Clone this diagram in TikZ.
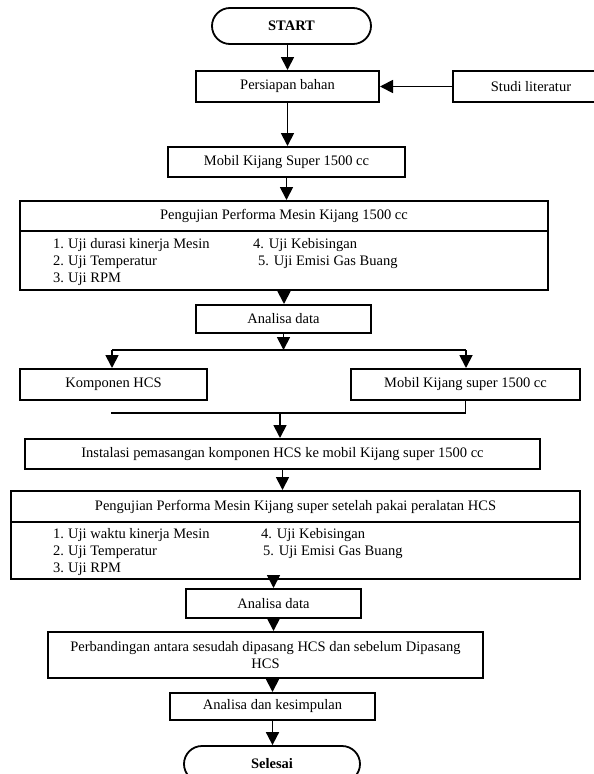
\documentclass[tikz,border=0pt]{standalone}
\usepackage{fontspec}
\setmainfont{Liberation Serif}
\usetikzlibrary{arrows.meta}
\begin{document}
\begin{tikzpicture}[x=1pt,y=-1pt,
  txt/.style={font=\fontsize{14.5}{17}\selectfont},
  box/.style={draw, line width=2pt, rectangle, inner sep=0pt, txt},
  term/.style={box, line width=1.8pt, rounded corners=18pt, font=\bfseries\fontsize{14.5}{17}\selectfont},
  arr/.style={line width=1.8pt, -{Triangle[width=13pt,length=13pt]}},
  ln/.style={line width=1.5pt},
  item/.style={anchor=base west, inner sep=0pt, txt}]
\useasboundingbox (0,0) rectangle (594,774);

\node[term, minimum width=159pt, minimum height=36pt] (start) at (291.5,26) {START};
\node[box, minimum width=183pt, minimum height=31pt] (persiapan) at (287.5,86.5) {Persiapan bahan};
\node[box, minimum width=156pt, minimum height=31pt] (studi) at (531,86.5) {Studi literatur};
\node[box, minimum width=237pt, minimum height=30pt] (mobil) at (286.5,162) {Mobil Kijang Super 1500 cc};
\node[box, minimum width=528pt, minimum height=30pt] (p1h) at (284,216) {Pengujian Performa Mesin Kijang 1500 cc};
\node[box, minimum width=528pt, minimum height=59pt] (p1b) at (284,260.5) {};
\node[item] (p1n1) at (53,248) {1.};
\node[item] (p1i1) at (68,248) {Uji durasi kinerja Mesin};
\node[item] (p1n2) at (53,265) {2.};
\node[item] (p1i2) at (68,265) {Uji Temperatur};
\node[item] (p1n3) at (53,282) {3.};
\node[item] (p1i3) at (68,282) {Uji RPM};
\node[item] (p1i4) at (253,248) {4. Uji Kebisingan};
\node[item] (p1i5) at (258,265) {5. Uji Emisi Gas Buang};

\node[box, minimum width=175pt, minimum height=28pt] (an1) at (283.5,319) {Analisa data};
\node[box, minimum width=187pt, minimum height=31pt] (komp) at (113.5,384.5) {Komponen HCS};
\node[box, minimum width=229pt, minimum height=31pt] (msuper) at (465.5,384.5) {Mobil Kijang super 1500 cc};
\node[box, minimum width=515pt, minimum height=30pt] (inst) at (282.5,454) {Instalasi pemasangan komponen HCS ke mobil Kijang super 1500 cc};
\node[box, minimum width=569pt, minimum height=31pt] (p2h) at (295.5,506.5) {Pengujian Performa Mesin Kijang super setelah pakai peralatan HCS};
\node[box, minimum width=569pt, minimum height=57pt] (p2b) at (295.5,550.5) {};
\node[item] (p2n1) at (53,538) {1.};
\node[item] (p2i1) at (68,538) {Uji waktu kinerja Mesin};
\node[item] (p2n2) at (53,555) {2.};
\node[item] (p2i2) at (68,555) {Uji Temperatur};
\node[item] (p2n3) at (53,572) {3.};
\node[item] (p2i3) at (68,572) {Uji RPM};
\node[item] (p2i4) at (261,538) {4. Uji Kebisingan};
\node[item] (p2i5) at (263,555) {5. Uji Emisi Gas Buang};

\node[box, minimum width=175pt, minimum height=29pt] (an2) at (273.5,603.5) {Analisa data};
\node[box, minimum width=435pt, minimum height=46pt, align=center] (perb) at (265.5,655) {Perbandingan antara sesudah dipasang HCS dan sebelum Dipasang\\HCS};
\node[box, minimum width=205pt, minimum height=27pt] (ak) at (272.5,706.5) {Analisa dan kesimpulan};
\node[term, minimum width=176pt, minimum height=36pt] (sel) at (272,764) {Selesai};

\draw[arr] (persiapan.north |- start.south) -- (persiapan.north);
\draw[arr] (studi.west) -- (persiapan.east);
\draw[arr] (persiapan.south) -- (persiapan.south |- mobil.north);
\draw[arr] (mobil.south) -- (mobil.south |- p1h.north);
\draw[arr] (p1b.south) -- (p1b.south |- an1.north);
\coordinate (br) at (283.5,350);
\coordinate (brL) at (112,350);
\coordinate (brR) at (466,350);
\draw[arr] (an1.south) -- (br);
\draw[ln] (brL) -- (brR);
\draw[arr] (brL) -- (brL |- komp.north);
\draw[arr] (brR) -- (brR |- msuper.north);
\coordinate (mgL) at (111,413);
\coordinate (mgM) at (280,413);
\draw[ln] (msuper.south) |- (mgL);
\draw[arr] (mgM) -- (mgM |- inst.north);
\draw[arr] (inst.south) -- (inst.south |- p2h.north);
\draw[arr] (an2.north |- p2b.south) -- (an2.north);
\draw[arr] (an2.south) -- (an2.south |- perb.north);
\draw[arr] (ak.north |- perb.south) -- (ak.north);
\draw[arr] (ak.south) -- (ak.south |- sel.north);
\end{tikzpicture}
\end{document}
